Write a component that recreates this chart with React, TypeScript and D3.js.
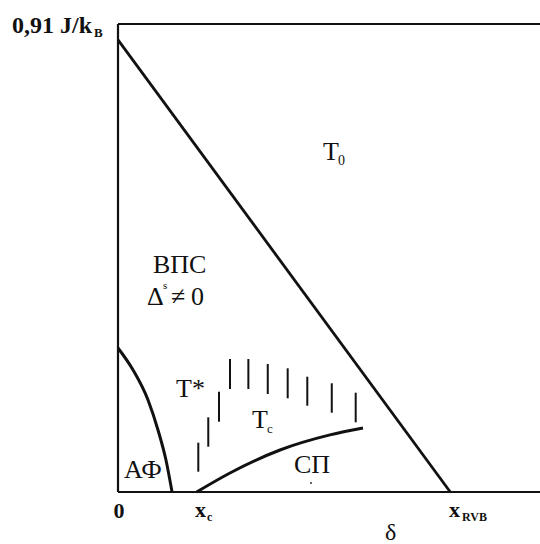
import React from "react";
import * as d3 from "d3";

// Axis extents (δ and T in units of J/k_B)
const deltaMax = 0.381;
const tMax = 0.91;
const xRVB = 0.3;

// T0 crossover line (RVB onset): from (0, T) down to x_RVB
const t0Line: [number, number][] = [
  [0, 0.879],
  [xRVB, 0],
];

// Antiferromagnetic boundary (read points)
const afDelta = [0, 0.0136, 0.0271, 0.0361, 0.0433, 0.0488];
const afT = [0.28, 0.2372, 0.1789, 0.1206, 0.0622, 0];

// Superconducting dome boundary Tc (read points)
const scDelta = [0.071, 0.1011, 0.1463, 0.1914, 0.2212];
const scT = [0, 0.037, 0.0817, 0.111, 0.1244];

// T* hatch marks: δ, upper T, lower T
const hatchDelta = [0.0725, 0.0815, 0.0912, 0.1011, 0.1177, 0.1352, 0.1532, 0.1709, 0.193, 0.2146];
const hatchTop = [0.0959, 0.1452, 0.195, 0.2586, 0.2586, 0.2489, 0.2405, 0.2242, 0.2114, 0.1931];
const hatchBottom = [0.0395, 0.0881, 0.1367, 0.2003, 0.2003, 0.1906, 0.1822, 0.1678, 0.1542, 0.1355];

const W = 540;
const H = 544;
const FONT = "Liberation Serif, Times New Roman, DejaVu Serif, serif";

export default function App() {
  const x = d3.scaleLinear().domain([0, deltaMax]).range([118, 540]);
  const y = d3.scaleLinear().domain([0, tMax]).range([492, 24]);

  const line = d3
    .line<[number, number]>()
    .x((d) => x(d[0]))
    .y((d) => y(d[1]));
  const curve = d3
    .line<[number, number]>()
    .x((d) => x(d[0]))
    .y((d) => y(d[1]))
    .curve(d3.curveMonotoneX);

  const afPts = afDelta.map((d, i) => [d, afT[i]] as [number, number]);
  const scPts = scDelta.map((d, i) => [d, scT[i]] as [number, number]);

  const T = (p: any) => <text fontFamily={FONT} fill="#111" {...p} />;

  return (
    <svg
      width={W}
      height={H}
      viewBox={`0 0 ${W} ${H}`}
      style={{ position: "absolute", left: 0, top: 0, background: "#fff" }}
    >
      <rect width={W} height={H} fill="#fff" />
      {/* frame */}
      <g stroke="#111" strokeWidth={2.2} fill="none">
        <line x1={x(0)} x2={x(deltaMax)} y1={y(tMax)} y2={y(tMax)} />
        <line x1={x(0)} x2={x(deltaMax)} y1={y(0)} y2={y(0)} />
        <line x1={x(0)} x2={x(0)} y1={y(tMax)} y2={y(0)} />
      </g>
      {/* curves */}
      <g stroke="#111" fill="none" strokeWidth={3}>
        <path d={line(t0Line) || ""} strokeWidth={2.8} />
        <path d={curve(afPts) || ""} />
        <path d={curve(scPts) || ""} />
      </g>
      {/* hatch */}
      <g stroke="#111" strokeWidth={2}>
        {hatchDelta.map((d, i) => (
          <line key={i} x1={x(d)} x2={x(d)} y1={y(hatchTop[i])} y2={y(hatchBottom[i])} />
        ))}
      </g>
      <circle cx={311} cy={483} r={1} fill="#333" />
      {/* labels */}
      <T x={12} y={33} fontSize={24} fontWeight="bold">0,91 J/k</T>
      <T x={94} y={37} fontSize={13} fontWeight="bold">B</T>

      <T x={323} y={160} fontSize={26}>T</T>
      <T x={338} y={165} fontSize={14}>0</T>

      <T x={153} y={273} fontSize={26}>ВПС</T>
      <T x={147} y={305} fontSize={26}>Δ</T>
      <T x={163} y={289} fontSize={11}>s</T>
      <T x={171} y={305} fontSize={26}>≠</T>
      <T x={191} y={305} fontSize={26}>0</T>

      <T x={176} y={397} fontSize={26}>T*</T>
      <T x={252} y={428} fontSize={26}>T</T>
      <T x={267} y={433} fontSize={13}>c</T>
      <T x={294} y={473} fontSize={26}>СП</T>
      <T x={124} y={478} fontSize={26}>АФ</T>

      <T x={119} y={518} fontSize={22} fontWeight="bold" textAnchor="middle">0</T>
      <T x={195} y={517} fontSize={22} fontWeight="bold">x</T>
      <T x={207} y={521} fontSize={12} fontWeight="bold">c</T>
      <T x={449} y={517} fontSize={22} fontWeight="bold">x</T>
      <T x={462} y={521} fontSize={12} fontWeight="bold">RVB</T>
      <T x={385} y={540} fontSize={24}>δ</T>
    </svg>
  );
}
